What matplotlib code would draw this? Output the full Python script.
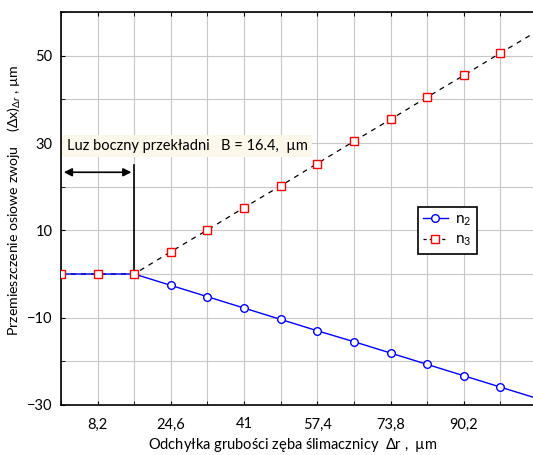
import matplotlib.pyplot as plt
import numpy as np

# dane
dr = [0, 8.2, 16.4, 24.6, 32.8, 41, 49.2, 57.4, 65.6, 73.8, 82, 90.2, 98.4, 106.6]
n2 = [0, 0, 0, -2.6, -5.2, -7.8, -10.4, -13.0, -15.5, -18.1, -20.7, -23.3, -25.9, -28.5]
n3 = [0, 0, 0, 5.1, 10.1, 15.2, 20.2, 25.3, 30.4, 35.4, 40.5, 45.5, 50.6, 55.6]
x_ticks = [8.2, 24.6, 41, 57.4, 73.8, 90.2]
x_tick_labels = ['8,2', '24,6', '41', '57,4', '73,8', '90,2']
y_ticks = [-30, -10, 10, 30, 50]
B = 16.4

plt.rcParams['font.family'] = ['Lato', 'DejaVu Sans']
plt.rcParams['mathtext.fontset'] = 'custom'
plt.rcParams['mathtext.rm'] = 'Lato'
plt.rcParams['mathtext.it'] = 'Lato:italic'

fig = plt.figure(figsize=(5.33, 4.55), dpi=100)
ax = fig.add_axes([0.1144, 0.1099, 0.8856, 0.8637])

ax.plot(dr, n3, color='black', ls=(0, (4, 4)), lw=0.9, zorder=2)
ax.plot(dr, n2, color='blue', lw=1.0, zorder=3)
ax.plot(dr[:-1], n2[:-1], ls='none', marker='o', ms=5.5, mfc='white', mec='blue', mew=1.0, zorder=4)
ax.plot(dr[:-1], n3[:-1], ls='none', marker='s', ms=5.5, mfc='white', mec='red', mew=1.0, zorder=5)

# legenda
h2, = ax.plot([], [], color='blue', lw=1.0, marker='o', ms=5.5, mfc='white', mec='blue')
h3, = ax.plot([], [], color='black', ls=(0, (2.5, 2.5)), lw=0.9, marker='s', ms=5.5, mfc='white', mec='red')
leg = ax.legend([h2, h3], ['n$_2$', 'n$_3$'], loc='upper left', bbox_to_anchor=(0.756, 0.504),
                borderaxespad=0, fancybox=False, framealpha=1, edgecolor='black', fontsize=11,
                handlelength=1.6, handletextpad=0.5, borderpad=0.35, labelspacing=0.35)
leg.get_frame().set_linewidth(1.2)

# luz boczny
ax.plot([B, B], [0, 25], color='black', lw=1.2, zorder=3)
ax.annotate('', xy=(0, 23.3), xytext=(B, 23.3),
            arrowprops=dict(arrowstyle='<|-|>', color='black', lw=1.2, mutation_scale=12))
ax.text(1.3, 29.3, 'Luz boczny przekładni   B = 16.4,  µm', fontsize=10.5, va='center', ha='left',
        bbox=dict(boxstyle='square,pad=0.3', fc='#fbf7ea', ec='none'), zorder=6)

ax.set_xlim(0, 105.7)
ax.set_ylim(-30, 60)
ax.set_xticks(np.arange(0, 106, 8.2), minor=True)
ax.set_xticks(x_ticks)
ax.set_xticklabels(x_tick_labels)
ax.set_yticks(np.arange(-30, 61, 10), minor=True)
ax.set_yticks(y_ticks)
ax.grid(True, which='both', color='#c8c8c8', lw=0.8)
ax.tick_params(which='both', direction='in', length=3, labelsize=10.5, top=True, right=False)
ax.tick_params(axis='x', pad=9)
ax.tick_params(axis='y', pad=6)
ax.spines['right'].set_visible(False)
for s in ['left', 'bottom', 'top']:
    ax.spines[s].set_linewidth(1.2)

ax.set_xlabel(r'Odchyłka grubości zęba ślimacznicy  $\Delta$r ,  µm', fontsize=10.5)
ax.xaxis.set_label_coords(0.49, -0.08)
ax.set_ylabel(r'Przemieszczenie osiowe zwoju    ($\Delta$x)$_{\Delta r}$ , µm', fontsize=10.2)
ax.yaxis.set_label_coords(-0.08, 0.52)

plt.savefig('out.png', dpi=100)
